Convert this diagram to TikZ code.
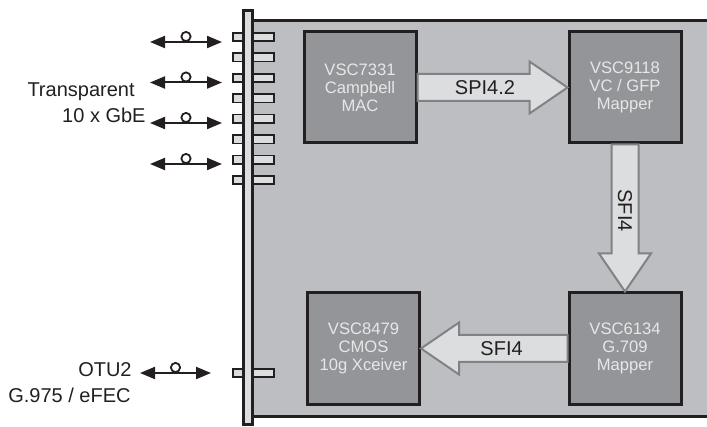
\documentclass[tikz,border=0pt]{standalone}
\usepackage{fontspec}
\setmainfont{Liberation Sans}
\usetikzlibrary{calc,arrows.meta}
\definecolor{boardgray}{HTML}{BDBEC1}
\definecolor{chipgray}{HTML}{939598}
\definecolor{palegray}{HTML}{DCDDDE}
\definecolor{edgedark}{HTML}{231F20}
\definecolor{flowedge}{HTML}{808285}
\definecolor{chiptext}{HTML}{E6E7E8}
\tikzset{
  board/.style={draw=edgedark,line width=1.3pt,fill=boardgray},
  faceplate/.style={draw=edgedark,line width=1.5pt,fill=palegray},
  portpin/.style={rectangle,draw=edgedark,line width=0.85pt,fill=palegray,minimum width=20.5pt,minimum height=4.2pt,inner sep=0},
  chip/.style={rectangle,draw=edgedark,line width=1.5pt,fill=chipgray,minimum width=56pt,minimum height=55.5pt,inner sep=0,
               align=center,text=chiptext,font=\fontsize{8.3pt}{8.9pt}\selectfont},
  % the wide hollow arrows between the chips
  fat/.style={draw=flowedge,line width=1pt,fill=palegray,line join=miter},
  flowlab/.style={text=edgedark,font=\fontsize{10pt}{12pt}\selectfont,inner sep=0},
  sidelab/.style={text=edgedark,font=\fontsize{10pt}{12pt}\selectfont,inner sep=0},
  portarrow/.style={{Triangle[length=7.5pt,width=6pt]}-{Triangle[length=7.5pt,width=6pt]},line width=1pt,draw=edgedark},
  ring/.style={circle,draw=edgedark,line width=0.9pt,fill=white,minimum size=4.6pt,inner sep=0,anchor=south},
}
\begin{document}
\begin{tikzpicture}[x=0.5pt,y=-0.5pt]
  \useasboundingbox (0,0) rectangle (707,427);
  % a wide arrow from one chip to the next, its label on the shaft
  \newcommand{\fatarrow}[5]{% #1 = tail, #2 = tip, #3 = label name, #4 = text, #5 = text rotation
    \coordinate (hb) at ($(#2)!19pt!(#1)$);
    \draw[fat] ($(#1)!6.75pt!90:(#2)$) -- ($(hb)!6.75pt!90:(#2)$) -- ($(hb)!13pt!90:(#2)$) -- (#2)
      -- ($(hb)!13pt!-90:(#2)$) -- ($(hb)!6.75pt!-90:(#2)$) -- ($(#1)!6.75pt!-90:(#2)$) -- cycle;
    \node[flowlab,rotate=#5] (#3) at ($(#1)!0.45!(#2)$) {#4};
  }
  % card and front plate
  \draw[board] (252,20.5) rectangle (720,416.5);
  \foreach \i in {0,...,7}
    \node[portpin] (pin\i) at (253.5,{37+20.45*\i}) {};
  \node[portpin] (pinotu) at (253.5,373) {};
  \draw[faceplate] (243.5,10.5) rectangle (252.5,424.5);

  \node[chip] (vsc7331) at (360,87.5) {VSC7331\\Campbell\\MAC};
  \node[chip] (vsc9118) at (625,87.5) {VSC9118\\VC / GFP\\Mapper};
  \node[chip] (vsc6134) at (625,348.5) {VSC6134\\G.709\\Mapper};
  \node[chip] (vsc8479) at (363.5,348.5) {VSC8479\\CMOS\\10g Xceiver};

  \fatarrow{vsc7331.east}{vsc9118.west}{spi}{SPI4.2}{0}
  \fatarrow{vsc9118.south}{vsc6134.north}{sfiv}{SFI4}{-90}
  \fatarrow{vsc6134.west}{vsc8479.east}{sfih}{SFI4}{0}

  % client ports
  \foreach \y [count=\i] in {42,82.5,123,164} {
    \coordinate (gL\i) at (150,\y); \coordinate (gR\i) at (222,\y);
    \draw[portarrow] (gL\i) -- node[ring] (ring\i) {} (gR\i);
  }
  \node[sidelab,anchor=base east] (transp) at (135,96.7) {Transparent};
  \node[sidelab,anchor=base east] (gbe) at (146,122.7) {10 x GbE};

  % line port
  \coordinate (otuL) at (140,373); \coordinate (otuR) at (211,373);
  \draw[portarrow] (otuL) -- node[ring] (ringotu) {} (otuR);
  \node[sidelab,anchor=base east] (otu) at (132,376) {OTU2};
  \node[sidelab,anchor=base east] (fec) at (131,402) {G.975 / eFEC};
\end{tikzpicture}
\end{document}
